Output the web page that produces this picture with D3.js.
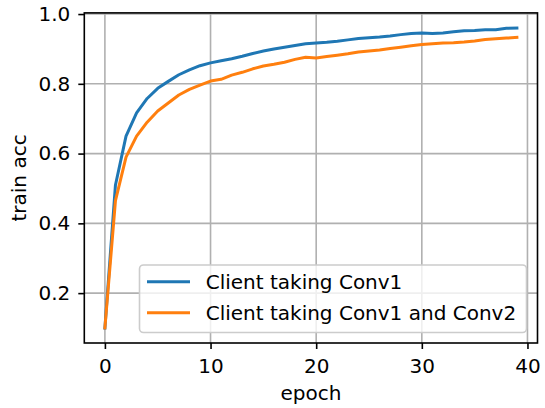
<!DOCTYPE html>
<html>
<head>
<meta charset="utf-8">
<script src="https://cdn.jsdelivr.net/npm/d3@7"></script>
<style>
  body { margin: 0; background: #fff; }
  svg { display: block; font-family: "DejaVu Sans", sans-serif; }
</style>
</head>
<body>
<svg id="chart" width="545" height="408"></svg>
<script>
// epochs 0..39
const epochs = d3.range(40);

const conv1 = [0.10, 0.51, 0.65, 0.717, 0.758, 0.787, 0.807, 0.826, 0.84, 0.852,
  0.86, 0.866, 0.872, 0.879, 0.887, 0.894, 0.90, 0.905, 0.91, 0.915,
  0.917, 0.919, 0.922, 0.926, 0.93, 0.932, 0.934, 0.937, 0.941, 0.944,
  0.946, 0.944, 0.946, 0.949, 0.952, 0.953, 0.955, 0.955, 0.959, 0.96];

const conv12 = [0.10, 0.465, 0.59, 0.65, 0.69, 0.722, 0.745, 0.768, 0.784, 0.796,
  0.808, 0.813, 0.825, 0.833, 0.843, 0.851, 0.856, 0.862, 0.87, 0.876,
  0.874, 0.878, 0.882, 0.886, 0.891, 0.894, 0.897, 0.901, 0.905, 0.909,
  0.913, 0.915, 0.917, 0.918, 0.92, 0.923, 0.927, 0.929, 0.931, 0.933];

const seriesNames = ["Client taking Conv1", "Client taking Conv1 and Conv2"];
const colors = ["#1f77b4", "#ff7f0e"];
const xTicks = [0, 10, 20, 30, 40];
const yTicks = [0.2, 0.4, 0.6, 0.8, 1.0];

const svg = d3.select("#chart");
const pLeft = 84.3, pRight = 537.5, pTop = 12.9, pBottom = 343;
const fontSize = "20px";

const x = d3.scaleLinear().domain([-1.95, 40.95]).range([pLeft, pRight]);
const y = d3.scaleLinear().domain([0.057, 1.0033]).range([pBottom, pTop]);

// grid
const grid = svg.append("g").attr("stroke", "#b0b0b0").attr("stroke-width", 1.6);
xTicks.forEach(t => grid.append("line")
  .attr("x1", x(t)).attr("x2", x(t)).attr("y1", pTop).attr("y2", pBottom));
yTicks.forEach(t => grid.append("line")
  .attr("x1", pLeft).attr("x2", pRight).attr("y1", y(t)).attr("y2", y(t)));

// lines
const line = d3.line().x((d, i) => x(epochs[i])).y(d => y(d));
[conv1, conv12].forEach((s, i) => {
  svg.append("path")
    .datum(s)
    .attr("fill", "none")
    .attr("stroke", colors[i])
    .attr("stroke-width", 3)
    .attr("stroke-linejoin", "round")
    .attr("stroke-linecap", "square")
    .attr("d", line);
});

// axes
const xAxis = d3.axisBottom(x).tickValues(xTicks).tickSize(6).tickPadding(8).tickFormat(d3.format("d"));
const yAxis = d3.axisLeft(y).tickValues(yTicks).tickSize(6).tickPadding(8).tickFormat(d3.format(".1f"));

svg.append("g").attr("transform", `translate(0,${pBottom})`).call(xAxis)
  .call(g => g.select(".domain").remove())
  .call(g => g.selectAll(".tick text").attr("dy", null).attr("y", 29.7));
svg.append("g").attr("transform", `translate(${pLeft},0)`).call(yAxis)
  .call(g => g.select(".domain").remove());

svg.selectAll(".tick line").attr("stroke", "#000").attr("stroke-width", 1.6);
svg.selectAll(".tick text").attr("font-size", fontSize).attr("fill", "#000")
  .attr("font-family", "DejaVu Sans");

// spines
svg.append("rect")
  .attr("x", pLeft).attr("y", pTop)
  .attr("width", pRight - pLeft).attr("height", pBottom - pTop)
  .attr("fill", "none").attr("stroke", "#000").attr("stroke-width", 1.6);

// labels
svg.append("text")
  .attr("x", (pLeft + pRight) / 2).attr("y", 400)
  .attr("text-anchor", "middle").attr("font-size", fontSize)
  .text("epoch");

svg.append("text")
  .attr("transform", `translate(26,${(pTop + pBottom) / 2}) rotate(-90)`)
  .attr("text-anchor", "middle").attr("font-size", fontSize)
  .text("train acc");

// legend
const lg = svg.append("g");
lg.append("rect")
  .attr("x", 139.5).attr("y", 265).attr("width", 387).attr("height", 67.5)
  .attr("rx", 4).attr("fill", "#fff").attr("fill-opacity", 0.8)
  .attr("stroke", "#cccccc").attr("stroke-width", 1.6);
seriesNames.forEach((name, i) => {
  const ly = 281.7 + i * 31;
  lg.append("line")
    .attr("x1", 147).attr("x2", 190).attr("y1", ly).attr("y2", ly)
    .attr("stroke", colors[i]).attr("stroke-width", 3);
  lg.append("text")
    .attr("x", 205.7).attr("y", ly).attr("dy", "0.36em")
    .attr("font-size", fontSize)
    .text(name);
});
</script>
</body>
</html>
